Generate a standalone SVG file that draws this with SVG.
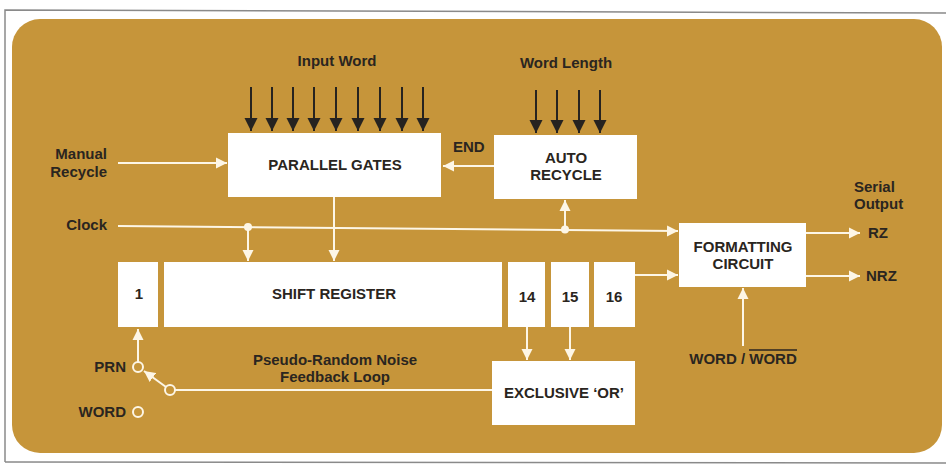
<svg xmlns="http://www.w3.org/2000/svg" width="946" height="466" viewBox="0 0 946 466">
<style>
text{font-family:"Liberation Sans",Arial,Helvetica,sans-serif;font-weight:bold;font-size:15px;fill:#2a2520}
.c{text-anchor:middle}
.e{text-anchor:end}
.box{fill:#ffffff;stroke:none}
.w{stroke:#fdf6e6;stroke-width:2;fill:none}
.k{stroke:#262320;stroke-width:2;fill:none}
.dot{fill:#fdf6e6}
.ring{fill:#c6953a;stroke:#fdf6e6;stroke-width:2}
</style>
<defs>
<marker id="aw" markerUnits="userSpaceOnUse" markerWidth="12" markerHeight="12" refX="11" refY="6" orient="auto" viewBox="0 0 12 12">
<path d="M0,0.5 L11,6 L0,11.5 Z" fill="#fdf6e6"/>
</marker>
<marker id="ak" markerUnits="userSpaceOnUse" markerWidth="14" markerHeight="14" refX="13" refY="7" orient="auto" viewBox="0 0 14 14">
<path d="M0,0.5 L13,7 L0,13.5 Z" fill="#262320"/>
</marker>
</defs>
<rect x="0" y="0" width="946" height="466" fill="#ffffff"/>
<g id="frame">
<path d="M5,462 L5,10 L946,13" fill="none" stroke="#8a8a8a" stroke-width="1.5"/>
<path d="M5,462 L946,463" fill="none" stroke="#8a8a8a" stroke-width="1.5"/>
<rect x="12" y="19" width="930" height="434" rx="28" ry="28" fill="#c6953a"/>
</g>
<g id="connectors">
<line class="k" x1="251" y1="87" x2="251" y2="131" marker-end="url(#ak)"/>
<line class="k" x1="272" y1="87" x2="272" y2="131" marker-end="url(#ak)"/>
<line class="k" x1="293" y1="87" x2="293" y2="131" marker-end="url(#ak)"/>
<line class="k" x1="314" y1="87" x2="314" y2="131" marker-end="url(#ak)"/>
<line class="k" x1="336" y1="87" x2="336" y2="131" marker-end="url(#ak)"/>
<line class="k" x1="358" y1="87" x2="358" y2="131" marker-end="url(#ak)"/>
<line class="k" x1="380" y1="87" x2="380" y2="131" marker-end="url(#ak)"/>
<line class="k" x1="402" y1="87" x2="402" y2="131" marker-end="url(#ak)"/>
<line class="k" x1="423" y1="87" x2="423" y2="131" marker-end="url(#ak)"/>
<line class="k" x1="536" y1="90" x2="536" y2="133" marker-end="url(#ak)"/>
<line class="k" x1="557" y1="90" x2="557" y2="133" marker-end="url(#ak)"/>
<line class="k" x1="579" y1="90" x2="579" y2="133" marker-end="url(#ak)"/>
<line class="k" x1="600" y1="90" x2="600" y2="133" marker-end="url(#ak)"/>
<line class="w" x1="118" y1="163" x2="227" y2="163" marker-end="url(#aw)"/>
<line class="w" x1="494" y1="166" x2="443" y2="166" marker-end="url(#aw)"/>
<line class="w" x1="118" y1="226" x2="678" y2="231" marker-end="url(#aw)"/>
<circle class="dot" cx="248" cy="227" r="4"/>
<circle class="dot" cx="565" cy="229.5" r="4"/>
<line class="w" x1="248" y1="227" x2="248" y2="261" marker-end="url(#aw)"/>
<line class="w" x1="334" y1="197" x2="334" y2="261" marker-end="url(#aw)"/>
<line class="w" x1="565" y1="229" x2="565" y2="200" marker-end="url(#aw)"/>
<line class="w" x1="635" y1="275" x2="678" y2="275" marker-end="url(#aw)"/>
<line class="w" x1="806" y1="233" x2="860" y2="233" marker-end="url(#aw)"/>
<line class="w" x1="806" y1="276" x2="860" y2="276" marker-end="url(#aw)"/>
<line class="w" x1="743" y1="346" x2="743" y2="288" marker-end="url(#aw)"/>
<line class="w" x1="527" y1="327" x2="527" y2="360" marker-end="url(#aw)"/>
<line class="w" x1="570" y1="327" x2="570" y2="360" marker-end="url(#aw)"/>
<line class="w" x1="492" y1="390" x2="175" y2="390"/>
<line class="w" x1="166" y1="387" x2="144" y2="371" marker-end="url(#aw)"/>
<line class="w" x1="138" y1="362" x2="138" y2="329" marker-end="url(#aw)"/>
</g>
<g id="labels">
<text class="c" x="337" y="66">Input Word</text>
<text class="c" x="566" y="68">Word Length</text>
<text class="e" x="107" y="159">Manual</text>
<text class="e" x="107" y="177">Recycle</text>
<text class="e" x="107" y="230">Clock</text>
<text x="453" y="152">END</text>
<text x="854" y="192">Serial</text>
<text x="854" y="209">Output</text>
<text x="868" y="238">RZ</text>
<text x="866" y="281">NRZ</text>
<text class="c" x="335" y="365">Pseudo-Random Noise</text>
<text class="c" x="335" y="382">Feedback Loop</text>
</g>
<g id="parallel-gates">
<rect class="box" x="228" y="133" width="213" height="64"/>
<text class="c" x="335" y="170">PARALLEL GATES</text>
</g>
<g id="auto-recycle">
<rect class="box" x="494" y="135" width="143" height="64"/>
<text class="c" x="566" y="163">AUTO</text>
<text class="c" x="566" y="180">RECYCLE</text>
</g>
<g id="stage-1">
<rect class="box" x="118" y="262" width="40" height="65"/>
<text class="c" x="139" y="299">1</text>
</g>
<g id="shift-register">
<rect class="box" x="164" y="262" width="338" height="65"/>
<text class="c" x="334" y="299">SHIFT REGISTER</text>
</g>
<g id="stage-14">
<rect class="box" x="508" y="262" width="37" height="65"/>
<text class="c" x="527" y="302">14</text>
</g>
<g id="stage-15">
<rect class="box" x="551" y="262" width="38" height="65"/>
<text class="c" x="570" y="302">15</text>
</g>
<g id="stage-16">
<rect class="box" x="594" y="262" width="41" height="65"/>
<text class="c" x="614" y="302">16</text>
</g>
<g id="formatting-circuit">
<rect class="box" x="679" y="223" width="127" height="64"/>
<text class="c" x="743" y="252">FORMATTING</text>
<text class="c" x="743" y="269">CIRCUIT</text>
</g>
<g id="exclusive-or">
<rect class="box" x="492" y="361" width="143" height="64"/>
<text class="c" x="564" y="398">EXCLUSIVE ‘OR’</text>
</g>
<g id="word-select">
<text class="c" x="743" y="364">WORD / WORD</text>
<line x1="749" y1="350" x2="797" y2="350" stroke="#2a2520" stroke-width="1.5"/>
</g>
<g id="switch">
<circle class="ring" cx="170" cy="390" r="5"/>
<circle class="ring" cx="138" cy="367" r="5"/>
<circle class="ring" cx="138" cy="412" r="5"/>
<text class="e" x="126" y="372">PRN</text>
<text class="e" x="126" y="417">WORD</text>
</g>
</svg>
